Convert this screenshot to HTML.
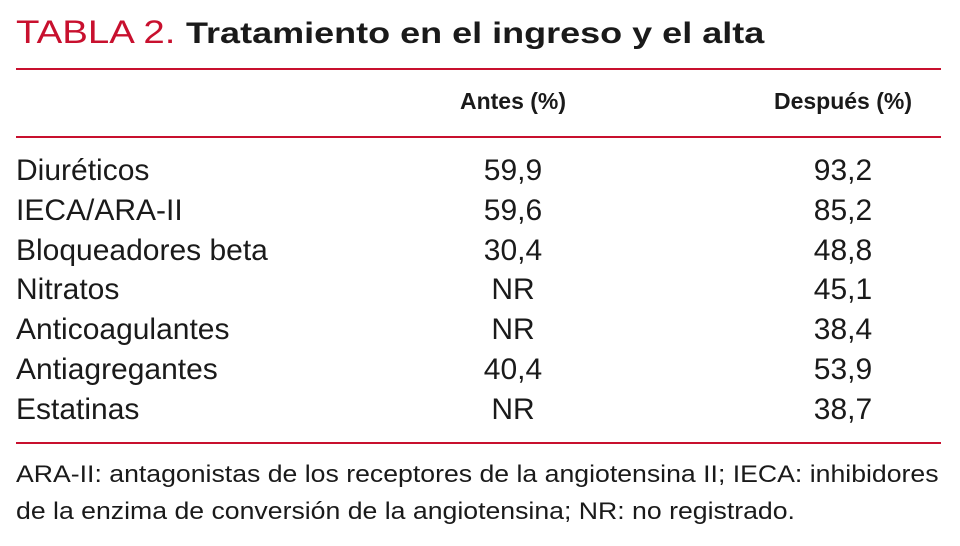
<!DOCTYPE html>
<html><head><meta charset="utf-8"><style>
body{margin:0;width:960px;height:546px;background:#fff;overflow:hidden;font-family:"Liberation Sans",sans-serif;color:#1a1a1a;position:relative}
.a{position:absolute;white-space:nowrap}
.line{position:absolute;left:16px;width:925px;height:2px;background:#c8102e}
.title{left:16px;top:14px;font-size:32px;transform:scaleX(1.2);transform-origin:left top}
.title .r{color:#c8102e}
.title b{font-weight:bold;font-size:30px}
.h{top:88px;font-size:23px;font-weight:bold;transform:translateX(-50%)}
.row{font-size:30px;height:40px;line-height:40px}
.c{transform:translateX(-50%)}
.f{left:16px;font-size:24px;line-height:37px;transform:scaleX(1.11);transform-origin:left top}
</style></head><body>
<div class="a title"><span class="r">TABLA 2.</span> <b>Tratamiento en el ingreso y el alta</b></div>
<div class="line" style="top:68px"></div>
<div class="a h" style="left:513px">Antes (%)</div>
<div class="a h" style="left:843px">Después (%)</div>
<div class="line" style="top:136px"></div>
<div id="rows"></div>
<div class="line" style="top:442px"></div>
<div class="a f" style="top:456px">ARA-II: antagonistas de los receptores de la angiotensina II; IECA: inhibidores<br>de la enzima de conversión de la angiotensina; NR: no registrado.</div>
<script>
const drugs=["Diuréticos","IECA/ARA-II","Bloqueadores beta","Nitratos","Anticoagulantes","Antiagregantes","Estatinas"];
const antes=["59,9","59,6","30,4","NR","NR","40,4","NR"];
const despues=["93,2","85,2","48,8","45,1","38,4","53,9","38,7"];
const host=document.getElementById('rows');
drugs.forEach((d,i)=>{
  const top=151+i*39.8;
  [[d,16,false,'row-label'],[antes[i],513,true,'antes-value'],[despues[i],843,true,'despues-value']].forEach(([t,x,c,n])=>{
    const el=document.createElement('div');
    el.className='a row'+(c?' c':'');
    el.style.left=x+'px';el.style.top=top+'px';
    el.textContent=t;
    
    
    host.appendChild(el);
  });
});
</script>
</body></html>
